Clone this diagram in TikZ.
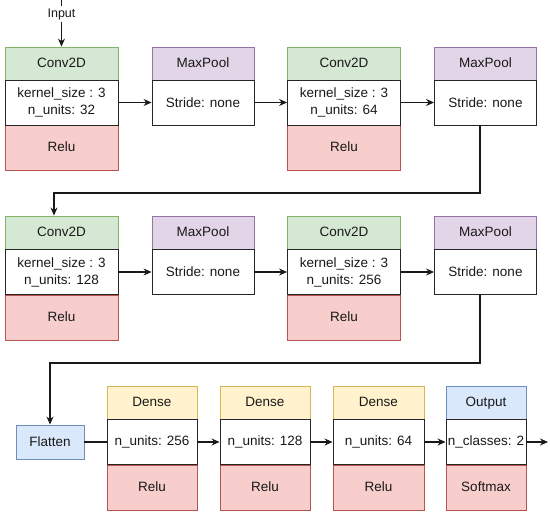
\documentclass[tikz,border=0pt]{standalone}
\usepackage{fontspec}
\setmainfont{Liberation Sans}
\usetikzlibrary{arrows.meta,positioning}
\definecolor{conv-fill}{HTML}{D5E8D4}
\definecolor{conv-line}{HTML}{82B366}
\definecolor{pool-fill}{HTML}{E1D5E7}
\definecolor{pool-line}{HTML}{9673A6}
\definecolor{relu-fill}{HTML}{F8CECC}
\definecolor{relu-line}{HTML}{B85450}
\definecolor{dense-fill}{HTML}{FFF2CC}
\definecolor{dense-line}{HTML}{D6B656}
\definecolor{out-fill}{HTML}{DAE8FC}
\definecolor{out-line}{HTML}{6C8EBF}

\begin{document}
\begin{tikzpicture}[x=1pt,y=-1pt,
    every node/.style={font=\fontsize{13.5}{17}\selectfont, text=black!90, inner sep=0pt, line width=0.9pt},
    head/.style={minimum height=33pt, text height=10pt, text depth=3pt},
    conv/.style={head, draw=conv-line, fill=conv-fill},
    pool/.style={head, draw=pool-line, fill=pool-fill},
    dense/.style={head, draw=dense-line, fill=dense-fill},
    outhead/.style={head, draw=out-line, fill=out-fill},
    body/.style={draw=black!85, fill=white, minimum height=45pt, align=center},
    relu/.style={draw=relu-line, fill=relu-fill, minimum height=45pt, text height=10pt, text depth=3pt},
    flat/.style={draw=out-line, fill=out-fill, minimum width=68pt, minimum height=34pt},
    link/.style={draw=black!90, line width=1.1pt, -{Stealth[length=8pt,width=7pt]}},
    plain/.style={draw=black!90, line width=1.1pt}
]
    \useasboundingbox (0,0) rectangle (550,514);

    % row 1
    \node[conv, minimum width=113pt] (c1h) at (61.5,63.5) {Conv2D};
    \node[relu, minimum width=113pt] (c1r) at (61.5,147.5) {Relu};
    \node[body, minimum width=113pt] (c1b) at (61.5,102.5) {kernel\_size : 3\\n\_units: 32};
    \node[pool, minimum width=102pt] (m1h) at (203,63.5) {MaxPool};
    \node[body, minimum width=102pt] (m1b) at (203,102.5) {Stride: none};
    \node[conv, minimum width=113pt] (c2h) at (344,63.5) {Conv2D};
    \node[relu, minimum width=113pt] (c2r) at (344,147.5) {Relu};
    \node[body, minimum width=113pt] (c2b) at (344,102.5) {kernel\_size : 3\\n\_units: 64};
    \node[pool, minimum width=102pt] (m2h) at (485.5,63.5) {MaxPool};
    \node[body, minimum width=102pt] (m2b) at (485.5,102.5) {Stride: none};

    % row 2
    \node[conv, minimum width=113pt] (c3h) at (61.5,232.5) {Conv2D};
    \node[relu, minimum width=113pt] (c3r) at (61.5,317.5) {Relu};
    \node[body, minimum width=113pt] (c3b) at (61.5,272) {kernel\_size : 3\\n\_units: 128};
    \node[pool, minimum width=102pt] (m3h) at (203,232.5) {MaxPool};
    \node[body, minimum width=102pt] (m3b) at (203,272) {Stride: none};
    \node[conv, minimum width=113pt] (c4h) at (344,232.5) {Conv2D};
    \node[relu, minimum width=113pt] (c4r) at (344,317.5) {Relu};
    \node[body, minimum width=113pt] (c4b) at (344,272) {kernel\_size : 3\\n\_units: 256};
    \node[pool, minimum width=102pt] (m4h) at (485.5,232.5) {MaxPool};
    \node[body, minimum width=102pt] (m4b) at (485.5,272) {Stride: none};

    % row 3
    \node[flat] (flat) at (50,442) {Flatten};
    \node[dense, minimum width=90pt] (d1h) at (152,402.5) {Dense};
    \node[relu, minimum width=90pt] (d1r) at (152,487.5) {Relu};
    \node[body, minimum width=90pt] (d1b) at (152,442) {n\_units: 256};
    \node[dense, minimum width=90pt] (d2h) at (265,402.5) {Dense};
    \node[relu, minimum width=90pt] (d2r) at (265,487.5) {Relu};
    \node[body, minimum width=90pt] (d2b) at (265,442) {n\_units: 128};
    \node[dense, minimum width=91pt] (d3h) at (378.5,402.5) {Dense};
    \node[relu, minimum width=91pt] (d3r) at (378.5,487.5) {Relu};
    \node[body, minimum width=91pt] (d3b) at (378.5,442) {n\_units: 64};
    \node[outhead, minimum width=80pt] (oh) at (486,402.5) {Output};
    \node[relu, minimum width=80pt] (or) at (486,487.5) {Softmax};
    \node[body, minimum width=80pt] (ob) at (486,442) {n\_classes: 2};

    % input and output ends, bends
    \coordinate (in) at (61.5,0);
    \node[font=\fontsize{12.5}{14}\selectfont, inner sep=1.5pt] (inlbl) at (61.5,14) {Input};
    \coordinate (out) at (548,442);
    \coordinate (k1) at (54,193);
    \coordinate (k2) at (50,363);

    % connectors
    \draw[plain] (in) -- (inlbl);
    \draw[link] (inlbl) -- (c1h);
    \draw[link] (c1b) -- (m1b);
    \draw[link] (m1b) -- (c2b);
    \draw[link] (c2b) -- (m2b);
    \draw[link] ([xshift=-5.5pt]m2b.south) |- (k1) -- (k1 |- c3h.north);
    \draw[link] (c3b) -- (m3b);
    \draw[link] (m3b) -- (c4b);
    \draw[link] (c4b) -- (m4b);
    \draw[link] ([xshift=-5.5pt]m4b.south) |- (k2) -- (flat);
    \draw[plain] (flat) -- (d1b);
    \draw[link] (d1b) -- (d2b);
    \draw[link] (d2b) -- (d3b);
    \draw[link] (d3b) -- (ob);
    \draw[link] (ob) -- (out);
\end{tikzpicture}
\end{document}
